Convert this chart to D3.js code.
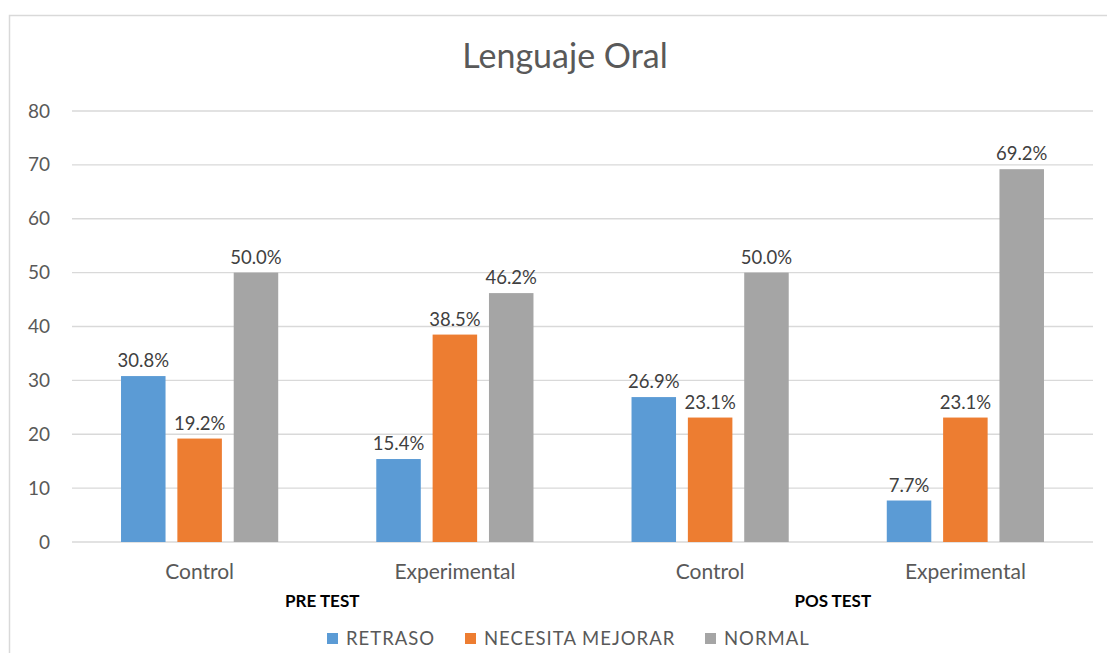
<!DOCTYPE html>
<html>
<head>
<meta charset="utf-8">
<script src="https://cdn.jsdelivr.net/npm/d3@7"></script>
<style>
  body { margin: 0; background: #fff; }
  text { font-family: Lato, "Open Sans", sans-serif; }
</style>
</head>
<body>
<div id="chart"></div>
<script>
const width = 1107;
const height = 653;

// data
const groups = ["Control", "Experimental", "Control", "Experimental"];
const phases = ["PRE TEST", "POS TEST"];
const series = ["RETRASO", "NECESITA MEJORAR", "NORMAL"];
const retraso = [30.8, 15.4, 26.9, 7.7];
const necesitaMejorar = [19.2, 38.5, 23.1, 23.1];
const normal = [50.0, 46.2, 50.0, 69.2];
const yTicks = [0, 10, 20, 30, 40, 50, 60, 70, 80];

const colors = ["#5B9BD5", "#ED7D31", "#A5A5A5"];
const values = [retraso, necesitaMejorar, normal];

const svg = d3.select("#chart").append("svg")
  .attr("width", width)
  .attr("height", height);

// chart frame (cut off at right and bottom like the screenshot)
svg.append("rect")
  .attr("x", 9.5).attr("y", 15.5)
  .attr("width", 1120).attr("height", 660)
  .attr("fill", "none")
  .attr("stroke", "#D9D9D9")
  .attr("stroke-width", 1.5);

const x0 = d3.scaleBand()
  .domain(d3.range(groups.length))
  .range([72, 1093]);

const x1 = d3.scaleBand()
  .domain(d3.range(series.length))
  .range([0, x0.bandwidth()])
  .paddingInner(0.21)
  .paddingOuter(0.87);

const y = d3.scaleLinear()
  .domain([0, 80])
  .range([542, 111]);

// gridlines
svg.append("g")
  .selectAll("line")
  .data(yTicks)
  .join("line")
  .attr("x1", 72).attr("x2", 1093)
  .attr("y1", d => y(d)).attr("y2", d => y(d))
  .attr("stroke", "#D9D9D9")
  .attr("stroke-width", 1.3);

// y axis labels
const yAxis = svg.append("g")
  .attr("transform", "translate(50,0)")
  .call(d3.axisLeft(y).tickValues(yTicks).tickSize(0).tickPadding(0));
yAxis.select(".domain").remove();
yAxis.selectAll("text")
  .attr("fill", "#595959")
  .style("font-size", "19px")
  .style("font-family", "Lato, sans-serif");

// bars
const gGroups = svg.append("g")
  .selectAll("g")
  .data(groups)
  .join("g")
  .attr("transform", (d, i) => `translate(${x0(i)},0)`);

series.forEach((s, si) => {
  gGroups.append("rect")
    .attr("x", x1(si))
    .attr("width", x1.bandwidth())
    .attr("y", (d, i) => y(values[si][i]))
    .attr("height", (d, i) => y(0) - y(values[si][i]))
    .attr("fill", colors[si]);

  gGroups.append("text")
    .attr("x", x1(si) + x1.bandwidth() / 2)
    .attr("y", (d, i) => y(values[si][i]) - 9)
    .attr("text-anchor", "middle")
    .attr("fill", "#404040")
    .style("font-size", "18.5px")
    .text((d, i) => values[si][i].toFixed(1) + "%");
});

// category labels
gGroups.append("text")
  .attr("x", x0.bandwidth() / 2)
  .attr("y", 579)
  .attr("text-anchor", "middle")
  .attr("fill", "#595959")
  .style("font-size", "21px")
  .text(d => d);

svg.append("g")
  .selectAll("text")
  .data(phases)
  .join("text")
  .attr("x", (d, i) => x0(i * 2) + x0.bandwidth() - 5)
  .attr("y", 607)
  .attr("text-anchor", "middle")
  .attr("fill", "#000")
  .style("font-size", "17px")
  .style("font-weight", "bold")
  .text(d => d);

// title
svg.append("text")
  .attr("x", 565)
  .attr("y", 68)
  .attr("text-anchor", "middle")
  .attr("fill", "#595959")
  .style("font-size", "34px")
  .text("Lenguaje Oral");

// legend
const legendX = [327, 465, 705];
const legend = svg.append("g")
  .selectAll("g")
  .data(series)
  .join("g")
  .attr("transform", (d, i) => `translate(${legendX[i]},633)`);

legend.append("rect")
  .attr("width", 11).attr("height", 11)
  .attr("fill", (d, i) => colors[i]);

legend.append("text")
  .attr("x", 19)
  .attr("y", 12)
  .attr("fill", "#595959")
  .style("font-size", "18.5px")
  .style("letter-spacing", "1px")
  .text(d => d);
</script>
</body>
</html>
